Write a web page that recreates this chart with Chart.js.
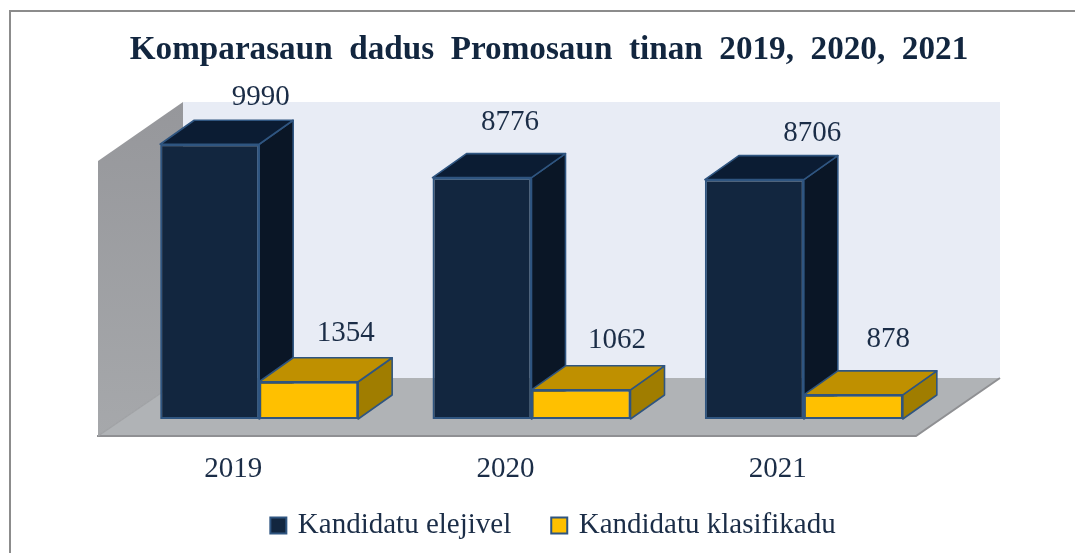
<!DOCTYPE html>
<html><head><meta charset="utf-8">
<script src="https://cdn.jsdelivr.net/npm/chart.js@4/dist/chart.umd.min.js"></script>
<style>html,body{margin:0;padding:0;background:#fff}canvas{display:block}</style>
</head><body><canvas id="c" width="1075" height="553"></canvas>
<script>
const chartTitle = "Komparasaun  dadus  Promosaun  tinan  2019,  2020,  2021";
const categories = ["2019", "2020", "2021"];
const seriesNames = ["Kandidatu elejivel", "Kandidatu klasifikadu"];
const eligible = [9990, 8776, 8706];
const classified = [1354, 1062, 878];

// Styling and hand-placed label offsets (kept separate from the data)
const labelShift = [[[51,-47],[28,-55],[58,-46]], [[37,-48],[36,-49],[35,-55]]];
const depth = {barX:34, barY:-24, roomX:85, roomY:-58};
const faces = [
  {front:"#12263F", top:"#0B1C33", side:"#0A1626"},
  {front:"#FFC000", top:"#BF9000", side:"#A07D00"}
];
const edge = "#2F5580", ink = "#1B2D47";
const serif = "'Liberation Serif','Times New Roman',serif";

function poly(ctx, pts, fill, stroke, w){
  ctx.beginPath();
  pts.forEach((p,i)=> i?ctx.lineTo(p[0],p[1]):ctx.moveTo(p[0],p[1]));
  ctx.closePath();
  ctx.fillStyle = fill; ctx.fill();
  if(stroke){ctx.strokeStyle=stroke;ctx.lineWidth=w;ctx.lineJoin="round";ctx.stroke();}
}

const room = {
  id:"room",
  afterLayout(chart){
    chart.legend.left += 23; chart.legend.right += 23;
    chart.legend.top = 468;
    chart.titleBlock.left = 99; chart.titleBlock.right = 999;
    const sx = chart.scales.x;
    sx.bottom = 553; sx.height = sx.bottom - sx.top;
  },
  beforeDatasetsDraw(chart){
    const {ctx} = chart;
    ctx.save();
    // frame
    ctx.fillStyle="#8C8C8C";
    ctx.fillRect(9,10,1066,2); ctx.fillRect(9,10,2,543);
    // room: walls and floor, anchored to the value-zero line
    const base = chart.scales.y.getPixelForValue(0);
    const fy = base+17, x0 = 98, x1 = 916, rx = depth.roomX, ry = depth.roomY, wallH = 276;
    poly(ctx,[[x0+rx,fy+ry-wallH],[x1+rx-1,fy+ry-wallH],[x1+rx-1,fy+ry],[x0+rx,fy+ry]],"#E8ECF5");
    const g = ctx.createLinearGradient(0,fy+ry-wallH,0,fy);
    g.addColorStop(0,"#96979B"); g.addColorStop(1,"#A6A8AB");
    poly(ctx,[[x0,fy+ry-wallH+59],[x0+rx,fy+ry-wallH],[x0+rx,fy+ry],[x0,fy]],g);
    poly(ctx,[[x0,fy],[x0+rx,fy+ry],[x1+rx-1,fy+ry],[x1,fy]],"#B0B3B6");
    ctx.strokeStyle="#8F9093"; ctx.lineWidth=2;
    ctx.beginPath(); ctx.moveTo(x0-1,fy); ctx.lineTo(x1,fy); ctx.lineTo(x1+rx-1,fy+ry); ctx.stroke();
    ctx.lineWidth=1.5;
    ctx.beginPath(); ctx.moveTo(x0,fy); ctx.lineTo(x0+rx,fy+ry); ctx.strokeStyle="#A0A2A5"; ctx.stroke();
    // 3D faces of the bars, read from the library's bar elements
    const dx=depth.barX, dy=depth.barY;
    for(let i=0;i<categories.length;i++){
      for(let d=0;d<2;d++){
        const b = chart.getDatasetMeta(d).data[i];
        const l=b.x-b.width/2, r=b.x+b.width/2, t=b.y, bt=b.base;
        poly(ctx,[[r,t],[r+dx,t+dy],[r+dx,bt+dy],[r,bt]],faces[d].side,edge,1.6);
        poly(ctx,[[l,t],[l+dx,t+dy],[r+dx,t+dy],[r,t]],faces[d].top,edge,1.6);
      }
    }
    ctx.restore();
  },
  afterDatasetsDraw(chart){
    const {ctx} = chart;
    ctx.save();
    ctx.font = "29px "+serif; ctx.fillStyle = ink;
    ctx.textAlign="center"; ctx.textBaseline="middle";
    [eligible, classified].forEach((vals,d)=>{
      const meta = chart.getDatasetMeta(d);
      vals.forEach((v,i)=>{
        const b = meta.data[i], s = labelShift[d][i];
        ctx.fillText(String(v), b.x+s[0], b.y+s[1]);
      });
    });
    ctx.restore();
  }
};

new Chart(document.getElementById("c"),{
  type:"bar",
  data:{labels:categories,datasets:[
    {label:seriesNames[0],data:eligible,backgroundColor:faces[0].front,borderColor:edge,borderWidth:2,borderSkipped:false},
    {label:seriesNames[1],data:classified,backgroundColor:faces[1].front,borderColor:edge,borderWidth:2,borderSkipped:false}
  ]},
  plugins:[room],
  options:{
    responsive:false,animation:false,
    layout:{padding:{left:123,right:135,top:0,bottom:0}},
    datasets:{bar:{categoryPercentage:0.727,barPercentage:1}},
    plugins:{
      title:{display:true,text:chartTitle,color:"#12263F",
        font:{family:serif,size:33.2,weight:"bold",lineHeight:1.2},
        padding:{top:31,bottom:73.16}},
      legend:{display:true,position:"bottom",
        labels:{font:{family:serif,size:29},color:ink,usePointStyle:true,pointStyle:"rect",boxWidth:10,boxHeight:16,padding:43}},
      tooltip:{enabled:false}
    },
    scales:{
      x:{grid:{display:false,drawTicks:false},border:{display:false},
         ticks:{font:{family:serif,size:29},color:ink,labelOffset:-26,padding:33,maxRotation:0,autoSkip:false},
         afterFit(s){s.height=134-(s.chart.legend?s.chart.legend.height:0);}},
      y:{display:false,min:0,max:10000}
    }
  }
});
</script></body></html>
